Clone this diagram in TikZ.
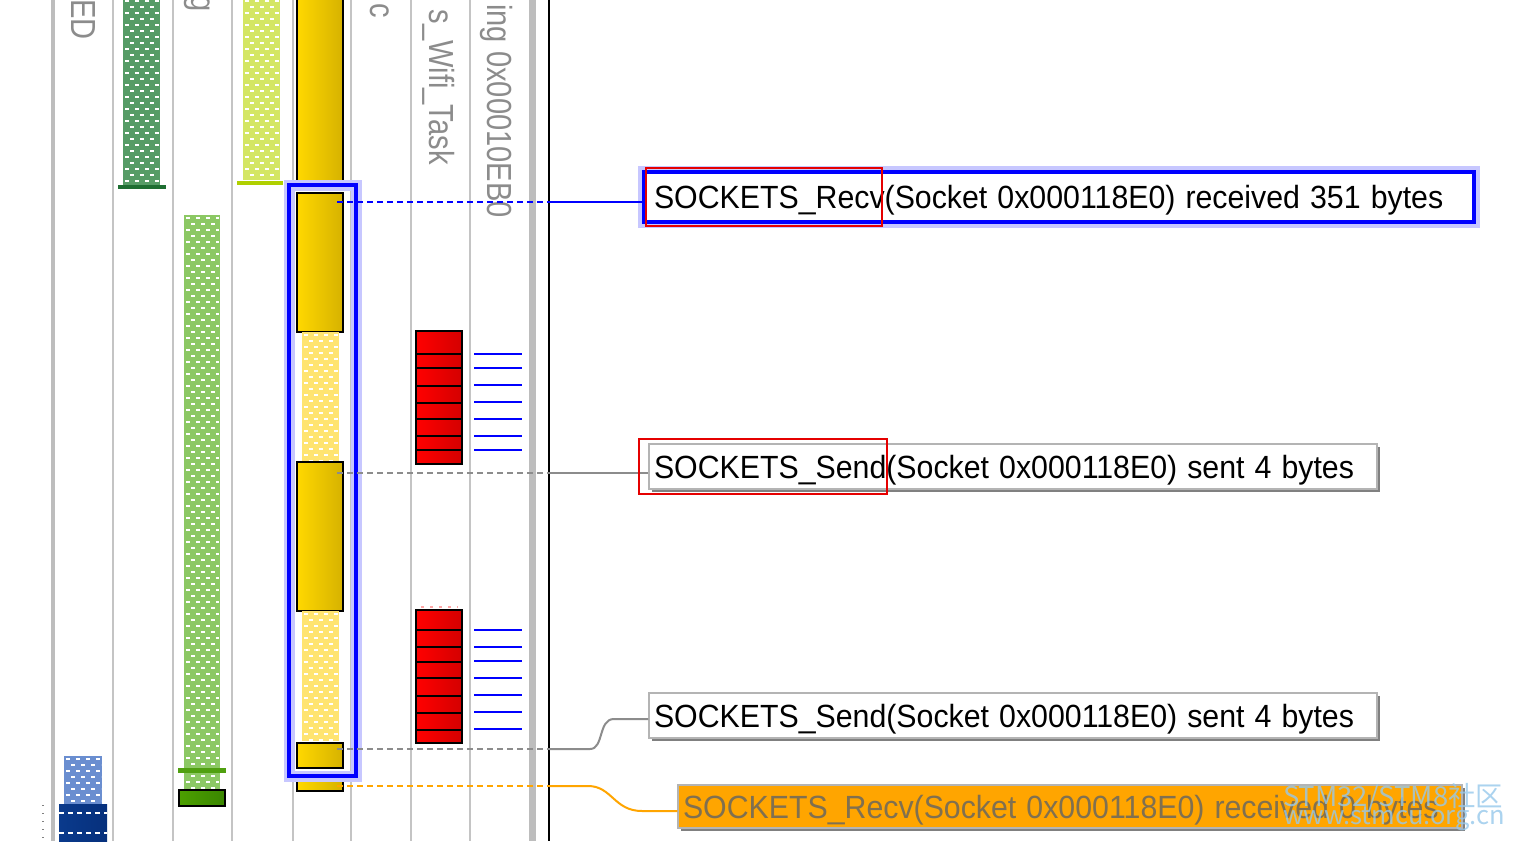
\documentclass[tikz,border=0pt]{standalone}
\usepackage{fontspec}
\usepackage{graphicx}
\setmainfont{Liberation Sans}
\newfontfamily\cjkfont{Noto Sans CJK SC}
\usetikzlibrary{shadows}
\definecolor{lanegray}{HTML}{C4C4C4}
\definecolor{lanedark}{HTML}{BDBDBD}
\definecolor{lbl}{HTML}{8C8C8C}
\definecolor{yelL}{HTML}{FFD800}
\definecolor{yelR}{HTML}{D6B200}
\definecolor{redL}{HTML}{FF0000}
\definecolor{redR}{HTML}{D40000}
\definecolor{hDkGreen}{HTML}{569C66}
\definecolor{lnDkGreen}{HTML}{1E6E32}
\definecolor{hLime}{HTML}{D4E664}
\definecolor{lnLime}{HTML}{B0D000}
\definecolor{hGreen}{HTML}{8CC864}
\definecolor{lnGreen}{HTML}{50A010}
\definecolor{gBoxL}{HTML}{4CA000}
\definecolor{gBoxR}{HTML}{3A8600}
\definecolor{hYel}{HTML}{FFE470}
\definecolor{hBlue}{HTML}{6A8ED0}
\definecolor{dkBlueL}{HTML}{0A3A8C}
\definecolor{dkBlueR}{HTML}{06307C}
\definecolor{conGray}{HTML}{8C8C8C}
\definecolor{boxGray}{HTML}{B4B4B4}
\definecolor{orng}{HTML}{FFA500}
\definecolor{orngText}{HTML}{807050}
\definecolor{wm}{HTML}{96C8EB}
\newcommand\lblfont{\fontsize{30.3}{36}\selectfont}
\newcommand\htext[1]{\scalebox{1}[1.06]{#1}}
\newcommand\vtext[1]{\scalebox{0.96}[1.15]{#1}}
\newcommand\mkhatch[5]{%
  \fill[#1] (#2,#3) rectangle (#4,#5);
  \pgfmathtruncatemacro\nrows{floor((#5-#3-4)/6)}
  \foreach \i in {0,...,\nrows}{
    \pgfmathsetmacro\yy{#3+3+6*\i}
    \pgfmathsetmacro\ph{mod(\i,2)*5}
    \draw[white, line width=2.2, dash pattern=on 4pt off 6pt, dash phase=\ph pt] (#2+2,\yy) -- (#4-1,\yy);
  }}
\begin{document}
\begin{tikzpicture}[x=1pt,y=-1pt,
  lane/.style={lanegray, line width=2.5},
  ybar/.style={draw=black, line width=2, left color=yelL, right color=yelR},
  rblock/.style={draw=black, line width=2, left color=redL, right color=redR},
  bline/.style={blue, line width=2.5},
  vlabel/.style={rotate=-90, anchor=base east, text=lbl, inner sep=0, font=\lblfont},
  recvbox/.style={draw=blue, line width=4.5, fill=white, preaction={draw=blue!22, line width=12},
     minimum height=50, text width=810, inner xsep=10, align=left, font=\lblfont,
     text height=23pt, text depth=0pt},
  sendbox/.style={draw=boxGray, line width=1.5, fill=white,
     drop shadow={shadow xshift=2.5pt, shadow yshift=-2.5pt, fill=black!50, opacity=1},
     minimum height=45, text width=718, inner xsep=5, align=left, font=\lblfont,
     text height=23pt, text depth=0pt},
  orbox/.style={draw=boxGray, line width=1.5, fill=orng, text=orngText,
     drop shadow={shadow xshift=2.5pt, shadow yshift=-2.5pt, fill=black!50, opacity=1},
     minimum height=43, text width=774, inner xsep=5, align=left, font=\lblfont,
     text height=23pt, text depth=0pt},
  redmark/.style={draw=red!90!black, line width=2},
  grayconn/.style={conGray, line width=2},
]
\useasboundingbox (0,0) rectangle (1513,841);
\begin{scope}
\clip (0,0) rectangle (1513,841);
\fill[white] (0,0) rectangle (1513,841);
% lanes
\draw[lanedark, line width=4] (53,0) -- (53,841);
\foreach \lx in {113,173,232,293,351,411,470}{\draw[lane] (\lx,0) -- (\lx,841);}
\draw[lanedark, line width=7] (532,0) -- (532,841);
\coordinate (bl) at (549,0);
\draw[black, line width=2] (bl) -- (549,841);
% labels
\node[vlabel] (lLED) at (71,40) {\vtext{LED}};
\node[vlabel] (lg) at (191,12) {\vtext{g}};
\node[vlabel] (lc) at (370,18) {\vtext{c}};
\node[vlabel] (lwifi) at (429,165) {\vtext{s\_Wifi\_Task}};
\node[vlabel] (ltr) at (487,218) {\vtext{ing 0x00010EB0}};
% hatched bars
\mkhatch{hDkGreen}{123}{-2}{160}{185}
\draw[lnDkGreen, line width=4] (118,187) -- (166,187);
\mkhatch{hLime}{243}{-2}{280}{180}
\draw[lnLime, line width=4] (237,183) -- (283,183);
\mkhatch{hGreen}{184}{215}{220}{790}
\draw[lnGreen, line width=5] (178,770) -- (226,770);
\draw[draw=black, line width=2, left color=gBoxL, right color=gBoxR] (179,790) rectangle (225,806);
\mkhatch{hBlue}{64}{756}{102}{804}
\draw[left color=dkBlueL, right color=dkBlueR, draw=none] (59,804) rectangle (107,845);
\draw[white, line width=1.2, dash pattern=on 5pt off 4pt] (59,813) -- (107,813);
\draw[white, line width=1.2, dash pattern=on 5pt off 4pt] (59,833) -- (107,833);
\draw[gray, line width=1.2, dash pattern=on 1pt off 7pt] (43,805) -- (43,841);
% yellow column
\draw[ybar] (297,-3) rectangle (343,181);
\draw[yelL!70, line width=2, dash pattern=on 5pt off 5pt] (303,190) -- (339,190);
\draw[ybar] (297,193) rectangle (343,332);
\mkhatch{hYel}{302}{332}{339}{462}
\draw[ybar] (297,462) rectangle (343,611);
\mkhatch{hYel}{302}{611}{339}{741}
\draw[ybar] (297,743) rectangle (343,768);
\draw[ybar] (297,774) rectangle (343,791);
% red blocks
\foreach \ya/\yb in {331/354,354/368,368/386,386/403,403/419,419/436,436/450,450/464,
                     610/630,630/647,647/662,662/678,678/696,696/713,713/730,730/743}{
  \draw[rblock] (416,\ya) rectangle (462,\yb);}
\draw[red!35, line width=2, dash pattern=on 3pt off 6pt] (421,607) -- (458,607);
% blue tick lines
\foreach \yl in {354,368,385,402,419,436,450,630,647,661,678,695,712,729}{
  \draw[bline] (474,\yl) -- (522,\yl);}
% selection rectangle
\draw[blue!22, line width=11] (289,185) rectangle (356,776);
\draw[blue, line width=4] (289,185) rectangle (356,776);
% boxes
\node[recvbox] (recv) at (1059,197) {\htext{SOCKETS\_Recv(Socket 0x000118E0) received 351 bytes}};
\node[sendbox] (send1) at (1013,466.5) {\htext{SOCKETS\_Send(Socket 0x000118E0) sent 4 bytes}};
\node[sendbox] (send2) at (1013,715.5) {\htext{SOCKETS\_Send(Socket 0x000118E0) sent 4 bytes}};
\node[orbox] (orb) at (1070,806.5) {\htext{SOCKETS\_Recv(Socket 0x000118E0) received 0 bytes}};
% connectors
\coordinate (a1) at (337,202);
\coordinate (a2) at (337,473);
\coordinate (a3) at (337,749);
\coordinate (a4) at (337,786);
\draw[blue, line width=2, dash pattern=on 6pt off 4pt] (a1) -- (a1 -| bl);
\draw[blue, line width=2] (a1 -| bl) -- (a1 -| recv.west);
\draw[grayconn, dash pattern=on 6pt off 4pt] (a2) -- (a2 -| bl);
\draw[grayconn] (a2 -| bl) -- (a2 -| send1.west);
\coordinate (k1) at (590,749);
\coordinate (k2) at (614,719);
\draw[grayconn, dash pattern=on 6pt off 4pt] (a3) -- (a3 -| bl);
\draw[grayconn] (a3 -| bl) -- (k1) .. controls (604,749) and (598,719) .. (k2) -- (k2 -| send2.west);
\coordinate (k3) at (588,786);
\coordinate (k4) at (642,811);
\draw[orng, line width=2, dash pattern=on 6pt off 4pt] (a4) -- (a4 -| bl);
\draw[orng, line width=2] (a4 -| bl) -- (k3) .. controls (612,786) and (614,811) .. (k4) -- (k4 -| orb.west);
% red highlight marks
\draw[redmark] (646,168) rectangle (882,226);
\draw[redmark] (639,439) rectangle (887,494);
% watermark
\node[anchor=north west, inner sep=0, text=wm, opacity=0.8] (wm1) at (1283,783) {\resizebox{220pt}{!}{\cjkfont STM32/STM8社区}};
\node[anchor=north west, inner sep=0, text=wm, opacity=0.8] (wm2) at (1283,807) {\resizebox{222pt}{!}{\cjkfont www.stmcu.org.cn}};
\end{scope}
\end{tikzpicture}
\end{document}
